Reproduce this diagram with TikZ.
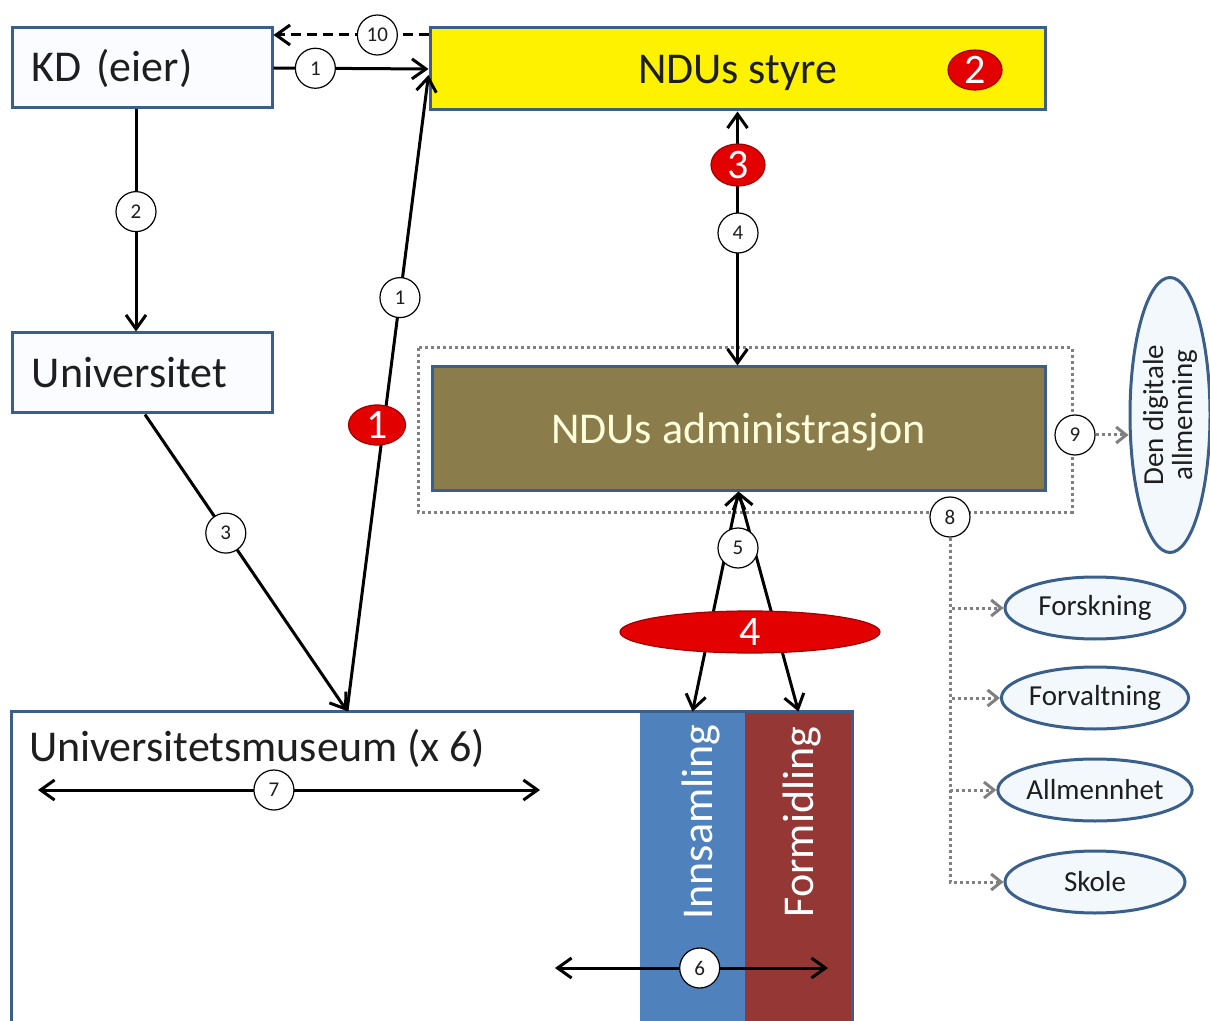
\documentclass[tikz,border=0pt]{standalone}
\usepackage{fontspec}
\setmainfont{Carlito}
\usetikzlibrary{arrows.meta,shapes.geometric}

\definecolor{boxline}{HTML}{3A5F8B}
\definecolor{boxfill}{HTML}{FAFCFF}
\definecolor{textcol}{HTML}{1E1E1E}
\definecolor{admfill}{HTML}{8B7D4B}
\definecolor{admtext}{HTML}{FFFFDD}
\definecolor{badgered}{HTML}{E30000}
\definecolor{badgeline}{HTML}{A00000}
\definecolor{colblue}{HTML}{4F81BD}
\definecolor{colred}{HTML}{953735}
\definecolor{ellfill}{HTML}{F3F8FD}
\definecolor{dotgray}{HTML}{808080}

\begin{document}
\begin{tikzpicture}[x=0.5pt,y=-0.5pt,
    box/.style={draw=boxline,line width=1.5pt,fill=boxfill,minimum width=130pt,minimum height=40pt,
      inner xsep=10pt,text width=110pt,align=left,text=textcol,font=\fontsize{22}{24}\selectfont},
    num/.style={circle,solid,draw=black,line width=0.6pt,fill=white,minimum size=20pt,inner sep=0pt,
      text=textcol,font=\fontsize{10.5}{10.5}\selectfont},
    badge/.style={ellipse,solid,draw=badgeline,line width=0.6pt,fill=badgered,text=white,inner sep=0pt,
      minimum width=27pt,minimum height=20pt,font=\fontsize{21}{21}\selectfont},
    target/.style={ellipse,draw=boxline,line width=1.5pt,fill=ellfill,minimum width=90pt,minimum height=31pt,
      inner sep=0pt,text=textcol,font=\fontsize{14.5}{14.5}\selectfont},
    coltext/.style={rotate=90,text=white,font=\fontsize{22}{22}\selectfont},
    conn/.style={line width=1.5pt,-{Straight Barb[length=7pt,width=10pt]}},
    twoway/.style={line width=1.5pt,{Straight Barb[length=7pt,width=10pt]}-{Straight Barb[length=7pt,width=10pt]}},
    dotline/.style={dotgray,line width=1.5pt,dash pattern=on 1.5pt off 1.5pt},
    dotconn/.style={dotline,-{Straight Barb[length=5pt,width=8pt]}}
  ]
\useasboundingbox (0,0) rectangle (1210,1021);

% boxes
\node[box] (kd) at (142,68) {KD (eier)};
\node[box] (univ) at (142,373) {Universitet};
\node[draw=boxline,line width=1.5pt,fill=yellow,minimum width=307.5pt,minimum height=41pt,text depth=0pt,
  text=textcol,font=\fontsize{22}{24}\selectfont] (styre) at (737.5,69) {NDUs styre};
\node[badge] (b2) at (975,70) {2};

\draw[dotline] (418,348) rectangle (1072,512);
\node[draw=boxline,line width=1.5pt,fill=admfill,minimum width=306.5pt,minimum height=61.5pt,text depth=0pt,
  text=admtext,font=\fontsize{22}{24}\selectfont] (adm) at (738.5,428.5) {NDUs administrasjon};

\node[fill=white,minimum width=420pt,minimum height=159pt,inner sep=0pt] (museum) at (432,871) {};
\node[fill=colblue,minimum width=52.5pt,minimum height=159pt,inner sep=0pt] (inns) at (692.5,871) {};
\node[fill=colred,minimum width=53.5pt,minimum height=159pt,inner sep=0pt] (form) at (798.5,871) {};
\draw[boxline,line width=1.5pt] (museum.north west) rectangle (museum.south east);
\node[anchor=west,text=textcol,font=\fontsize{22}{24}\selectfont] (museumtxt) at (22,748) {Universitetsmuseum (x 6)};
\node[coltext] (innstxt) at (701,822) {Innsamling};
\node[coltext] (formtxt) at (802,822) {Formidling};

% right side
\node[target,rotate=90,minimum width=137.5pt,minimum height=40pt,align=center] (digital) at (1170,415) {Den digitale\\allmenning};
\node[target] (forskning) at (1095,608) {Forskning};
\node[target] (forvaltning) at (1095,698) {Forvaltning};
\node[target] (allmennhet) at (1095,790) {Allmennhet};
\node[target] (skole) at (1095,882) {Skole};

\node[num] (n9) at (1075,435) {9};
\node[num] (n8) at (950,517) {8};
\draw[dotconn] (n9) -- (n9 -| digital.north);
\foreach \t in {forskning,forvaltning,allmennhet,skole}
  \draw[dotconn] (n8) |- (\t);

% connectors
\draw[conn] (kd.east) -- node[num,pos=0.27] (n1a) {1} (styre.west);
\draw[conn,dash pattern=on 5pt off 3pt] (styre.west |- 0,35) -- node[num,pos=0.33] (n10) {10} (kd.east |- 0,35);
\draw[conn] ([xshift=-3pt]kd.south) -- node[num,pos=0.46] (n2) {2} ([xshift=-3pt]univ.north);
\coordinate (mtop) at (347,711);
\draw[conn] ([xshift=1.5pt]univ.south) -- node[num,pos=0.40] (n3) {3} (mtop);
\draw[conn] (mtop) -- node[num,pos=0.65] (n1b) {1} ([yshift=-3pt]styre.west);
\node[badge,minimum width=28.5pt] (b1) at (377,425) {1};

\draw[twoway] (styre.south) -- (styre.south |- adm.north);
\node[badge,minimum height=21pt] (b3) at (738,165) {3};
\node[num] (n4) at (738,233) {4};

\draw[twoway] (adm.south) -- (inns.north);
\draw[twoway] (adm.south) -- (form.north);
\node[num] (n5) at (738,548) {5};
\node[badge,minimum width=130pt,minimum height=21pt] (b4) at (750,632) {4};

\coordinate (a7l) at (38,790);
\coordinate (a7r) at (540,790);
\draw[twoway] (a7l) -- node[num,pos=0.47] (n7) {7} (a7r);
\coordinate (a6l) at (555,968);
\coordinate (a6r) at (828,968);
\draw[twoway] (a6l) -- node[num,pos=0.53] (n6) {6} (a6r);
\end{tikzpicture}
\end{document}
